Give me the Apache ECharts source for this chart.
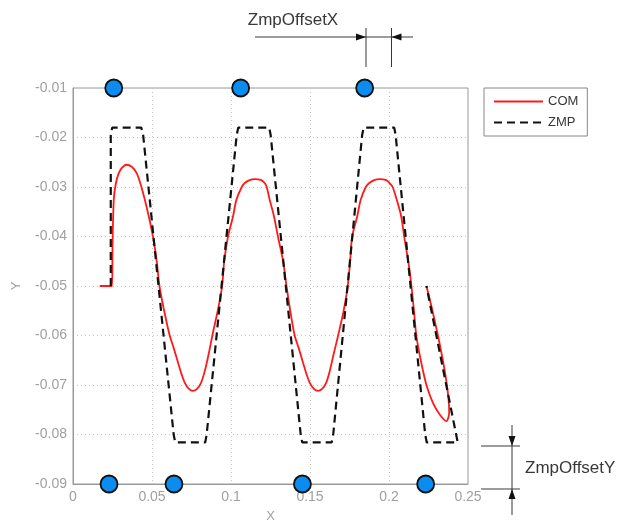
<!DOCTYPE html>
<html><head><meta charset="utf-8">
<script src="https://cdn.jsdelivr.net/npm/echarts@6/dist/echarts.min.js"></script>
<style>html,body{margin:0;padding:0;background:#fff}#c{width:625px;height:520px}</style>
</head><body><div id="c"></div>
<script>
const xTicks = [0, 0.05, 0.1, 0.15, 0.2, 0.25];
const yTicks = [-0.09, -0.08, -0.07, -0.06, -0.05, -0.04, -0.03, -0.02, -0.01];

const comX = [0.0169,0.0247,0.0250,0.0258,0.0270,0.0286,0.0308,0.0338,0.0372,0.0403,
              0.0433,0.0473,0.0506,0.0530,0.0547,0.0577,0.0612,0.0637,0.0665,0.0686,
              0.0707,0.0734,0.0759,0.0785,0.0811,0.0834,0.0857,0.0882,0.0916,0.0944,
              0.0957,0.0981,0.1013,0.1034,0.1068,0.1087,0.1118,0.1150,0.1192,0.1213,
              0.1226,0.1245,0.1272,0.1297,0.1330,0.1351,0.1375,0.1403,0.1428,0.1456,
              0.1477,0.1498,0.1525,0.1551,0.1576,0.1603,0.1625,0.1648,0.1678,0.1713,
              0.1739,0.1754,0.1767,0.1799,0.1821,0.1853,0.1875,0.1906,0.1941,0.1982,
              0.2004,0.2023,0.2049,0.2077,0.2096,0.2122,0.2142,0.2158,0.2173,0.2201,
              0.2237,0.2278,0.2320,0.2363,0.2381,0.2237];
const comY = [-0.050,-0.050,-0.042,-0.0326,-0.0295,-0.0275,-0.0262,-0.0255,-0.0259,-0.0272,
              -0.030,-0.035,-0.040,-0.045,-0.050,-0.055,-0.060,-0.0625,-0.0655,-0.0677,
              -0.0695,-0.0708,-0.0712,-0.0708,-0.0695,-0.0672,-0.064,-0.060,-0.055,-0.050,
              -0.045,-0.040,-0.0359,-0.0326,-0.030,-0.0292,-0.0286,-0.0284,-0.0286,-0.0292,
              -0.030,-0.0326,-0.0359,-0.040,-0.045,-0.050,-0.055,-0.060,-0.0625,-0.0655,
              -0.0677,-0.0695,-0.0708,-0.0712,-0.0708,-0.0695,-0.0672,-0.064,-0.060,-0.055,
              -0.050,-0.045,-0.040,-0.0359,-0.0326,-0.030,-0.0292,-0.0286,-0.0284,-0.0286,
              -0.0292,-0.030,-0.0326,-0.0359,-0.040,-0.045,-0.050,-0.055,-0.060,-0.065,
              -0.070,-0.0736,-0.0759,-0.0773,-0.0755,-0.050];

const zmpX = [0.0239,0.0239,0.0248,0.0432,0.0444,0.0637,0.0647,0.0837,0.0846,0.1036,0.1046,0.1242,0.1251,0.1441,0.1451,0.1637,0.1647,0.1830,0.1840,0.2033,0.2042,0.2229,0.2239,0.2435,0.2237];
const zmpY = [-0.050,-0.0195,-0.018,-0.018,-0.0195,-0.080,-0.0816,-0.0816,-0.080,-0.0195,-0.018,-0.018,-0.0195,-0.080,-0.0816,-0.0816,-0.080,-0.0195,-0.018,-0.018,-0.0195,-0.080,-0.0816,-0.0816,-0.050];

const footTopX = [0.0258, 0.1061, 0.1846];
const footTopY = -0.01;
const footBottomX = [0.0228, 0.0639, 0.1452, 0.2232];
const footBottomY = -0.09;

const pair = (xs, ys) => xs.map((x, i) => [x, ys[i]]);
const chart = echarts.init(document.getElementById('c'), null, {renderer: 'canvas'});
const axisGray = '#9a9a9a';
const labelGray = '#a0a0a0';
const ink = '#383838';
const FONT = 'Liberation Sans, Arial, sans-serif';
const footStyle = {color: '#0a8cf0', borderColor: '#111', borderWidth: 1.8, opacity: 1};

chart.setOption({
  animation: false,
  backgroundColor: '#fff',
  textStyle: {fontFamily: FONT},
  grid: {left: 73, top: 88, right: 157, bottom: 36, show: true, borderColor: axisGray, borderWidth: 1,
         containLabel: false, outerBoundsMode: 'none'},
  legend: {
    data: ['COM', 'ZMP'], orient: 'vertical', left: 484, top: 88,
    padding: [7, 9], itemWidth: 49, itemHeight: 14, itemGap: 8,
    borderColor: '#888', borderWidth: 1, backgroundColor: '#fff',
    itemStyle: {opacity: 0},
    textStyle: {fontSize: 13, color: ink, fontFamily: FONT}
  },
  xAxis: {
    type: 'value', min: xTicks[0], max: xTicks[xTicks.length - 1], interval: xTicks[1] - xTicks[0],
    name: 'X', nameLocation: 'middle', nameGap: 26,
    nameTextStyle: {color: labelGray, fontSize: 13},
    axisLine: {show: true, onZero: false, lineStyle: {color: axisGray}},
    axisTick: {show: false},
    axisLabel: {color: labelGray, fontSize: 14, margin: 6},
    splitLine: {show: true, lineStyle: {color: '#c4c4c4', type: [1, 3], width: 1}}
  },
  yAxis: {
    type: 'value', min: yTicks[0], max: yTicks[yTicks.length - 1], interval: 0.01,
    name: 'Y', nameLocation: 'middle', nameGap: 50, nameRotate: 90,
    nameTextStyle: {color: labelGray, fontSize: 13},
    axisLine: {show: true, onZero: false, lineStyle: {color: axisGray}},
    axisTick: {show: false},
    axisLabel: {color: labelGray, fontSize: 14, margin: 6},
    splitLine: {show: true, lineStyle: {color: '#c4c4c4', type: [1, 3], width: 1}}
  },
  series: [
    {name: 'COM', type: 'line', data: pair(comX, comY), symbol: 'none', smooth: 0.3,
     lineStyle: {color: '#ff1a1a', width: 1.8}, itemStyle: {color: '#ff1a1a'}, z: 3},
    {name: 'ZMP', type: 'line', data: pair(zmpX, zmpY), symbol: 'none',
     lineStyle: {color: '#111', width: 2.2, type: [8, 5]}, itemStyle: {color: '#111'}, z: 4},
    {name: 'footTop', type: 'scatter', data: footTopX.map(x => [x, footTopY]), symbolSize: 17, clip: false,
     itemStyle: footStyle, z: 5},
    {name: 'footBottom', type: 'scatter', data: footBottomX.map(x => [x, footBottomY]), symbolSize: 17, clip: false,
     itemStyle: footStyle, z: 5}
  ],
  graphic: [
    {type: 'line', shape: {x1: 255, y1: 37, x2: 413, y2: 37}, style: {stroke: ink, lineWidth: 1}},
    {type: 'polygon', shape: {points: [[366, 37], [356, 33.5], [356, 40.5]]}, style: {fill: '#111'}},
    {type: 'polygon', shape: {points: [[391.5, 37], [401.5, 33.5], [401.5, 40.5]]}, style: {fill: '#111'}},
    {type: 'line', shape: {x1: 366, y1: 28, x2: 366, y2: 67}, style: {stroke: ink, lineWidth: 1}},
    {type: 'line', shape: {x1: 391.5, y1: 28, x2: 391.5, y2: 67}, style: {stroke: ink, lineWidth: 1}},
    {type: 'text', x: 293, y: 20, style: {text: 'ZmpOffsetX', fill: ink, fontSize: 17, fontFamily: FONT, align: 'center', verticalAlign: 'middle'}},
    {type: 'line', shape: {x1: 512, y1: 425, x2: 512, y2: 515}, style: {stroke: ink, lineWidth: 1}},
    {type: 'polygon', shape: {points: [[512, 446], [508.5, 436], [515.5, 436]]}, style: {fill: '#111'}},
    {type: 'polygon', shape: {points: [[512, 489], [508.5, 499], [515.5, 499]]}, style: {fill: '#111'}},
    {type: 'line', shape: {x1: 481, y1: 446, x2: 520, y2: 446}, style: {stroke: ink, lineWidth: 1}},
    {type: 'line', shape: {x1: 481, y1: 489, x2: 520, y2: 489}, style: {stroke: ink, lineWidth: 1}},
    {type: 'text', x: 525, y: 468, style: {text: 'ZmpOffsetY', fill: ink, fontSize: 17, fontFamily: FONT, align: 'left', verticalAlign: 'middle'}}
  ]
});
</script>
</body></html>
